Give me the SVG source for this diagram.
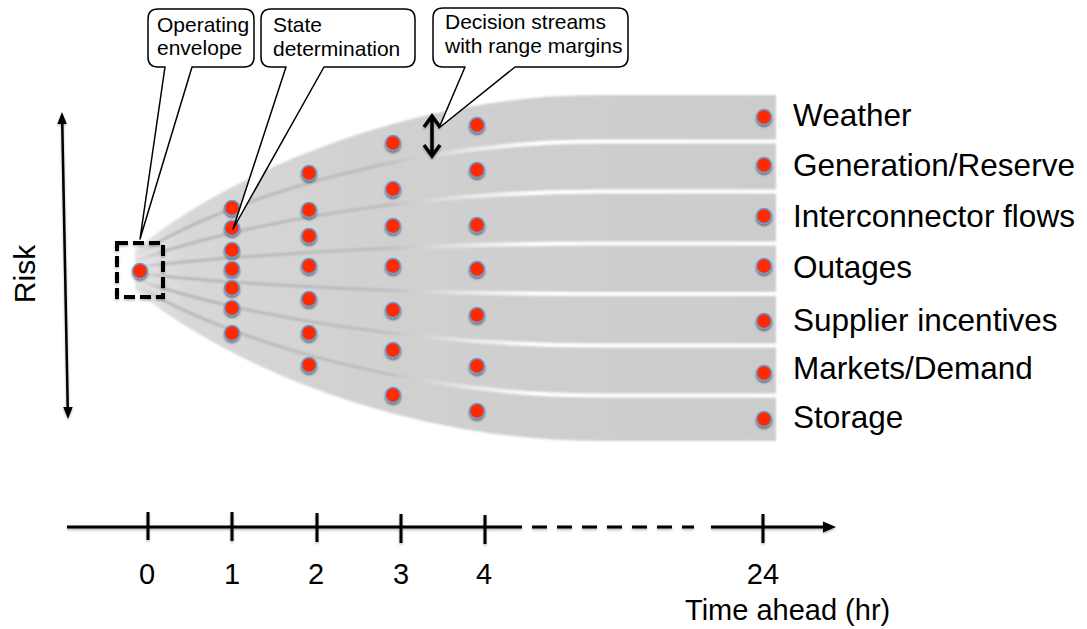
<svg xmlns="http://www.w3.org/2000/svg" width="1087" height="629" viewBox="0 0 1087 629">
<defs>
<style>
text{font-family:"Liberation Sans",Arial,sans-serif;fill:#000}
.lbl{font-size:31.5px}
.tk{font-size:29px;text-anchor:middle}
.co{font-size:21px}
.dot{fill:#ff2a00;stroke:#6c9bd6;stroke-width:1.6}
.ln{stroke:#000;fill:none;stroke-linecap:butt}
.bub{fill:#fff;stroke:#000;stroke-width:1.5;stroke-linejoin:round}
.dk{fill:none;stroke:url(#darkG);stroke-width:3}
.wh{fill:none;stroke:url(#whiteG);stroke-width:4}
</style>
<linearGradient id="fanG" gradientUnits="userSpaceOnUse" x1="135" y1="0" x2="776" y2="0">
<stop offset="0" stop-color="#e4e4e4"/>
<stop offset="0.08" stop-color="#d8d8d8"/>
<stop offset="0.4" stop-color="#d0d0d0"/>
<stop offset="1" stop-color="#cccccc"/>
</linearGradient>
<linearGradient id="darkG" gradientUnits="userSpaceOnUse" x1="135" y1="0" x2="776" y2="0">
<stop offset="0" stop-color="#8c8c8c" stop-opacity="0"/>
<stop offset="0.05" stop-color="#8c8c8c" stop-opacity="0.45"/>
<stop offset="0.38" stop-color="#8c8c8c" stop-opacity="0.3"/>
<stop offset="0.52" stop-color="#8c8c8c" stop-opacity="0"/>
</linearGradient>
<linearGradient id="whiteG" gradientUnits="userSpaceOnUse" x1="135" y1="0" x2="776" y2="0">
<stop offset="0.4" stop-color="#ffffff" stop-opacity="0"/>
<stop offset="0.62" stop-color="#ffffff" stop-opacity="1"/>
<stop offset="1" stop-color="#ffffff" stop-opacity="1"/>
</linearGradient>
<filter id="soft" x="-5%" y="-5%" width="110%" height="110%"><feGaussianBlur stdDeviation="1"/></filter>
<filter id="ds" x="-50%" y="-50%" width="200%" height="200%"><feDropShadow dx="0" dy="2" stdDeviation="1.3" flood-color="#000" flood-opacity="0.45"/></filter>
<filter id="ls" x="-10%" y="-10%" width="120%" height="120%"><feDropShadow dx="0" dy="1.5" stdDeviation="1" flood-color="#000" flood-opacity="0.3"/></filter>
</defs>

<g id="fan" filter="url(#soft)">
<path d="M135,250 C240,165 420,95 600,95 L776,95 L776,441 L600,441 C420,441 240,375 135,290 Z" fill="url(#fanG)"/>
<g id="streaks">
<path class="dk" d="M135,255.4 C240,192 420,141.5 600,141.5 L776,141.5"/>
<path class="dk" d="M135,261.2 C240,223 420,191.5 600,191.5 L776,191.5"/>
<path class="dk" d="M135,267.2 C240,255 420,243.5 600,243.5 L776,243.5"/>
<path class="dk" d="M135,273 C240,285.5 420,294 600,294 L776,294"/>
<path class="dk" d="M135,279 C240,316 420,345.5 600,345.5 L776,345.5"/>
<path class="dk" d="M135,284.7 C240,346 420,395.5 600,395.5 L776,395.5"/>
<path class="wh" d="M135,255.4 C240,192 420,141.5 600,141.5 L778,141.5"/>
<path class="wh" d="M135,261.2 C240,223 420,191.5 600,191.5 L778,191.5"/>
<path class="wh" d="M135,267.2 C240,255 420,243.5 600,243.5 L778,243.5"/>
<path class="wh" d="M135,273 C240,285.5 420,294 600,294 L778,294"/>
<path class="wh" d="M135,279 C240,316 420,345.5 600,345.5 L778,345.5"/>
<path class="wh" d="M135,284.7 C240,346 420,395.5 600,395.5 L778,395.5"/>
</g>
</g>

<g id="envelope">
<rect x="117" y="243" width="46" height="54" fill="none" stroke="#000" stroke-width="4" stroke-dasharray="11 5" filter="url(#ls)"/>
<circle class="dot" cx="140" cy="271" r="7.5" filter="url(#ds)"/>
</g>

<g id="col1" filter="url(#ds)">
<circle class="dot" cx="232" cy="208" r="7.5"/>
<circle class="dot" cx="232" cy="228" r="7.5"/>
<circle class="dot" cx="232" cy="250" r="7.5"/>
<circle class="dot" cx="232" cy="269" r="7.5"/>
<circle class="dot" cx="232" cy="288" r="7.5"/>
<circle class="dot" cx="232" cy="308" r="7.5"/>
<circle class="dot" cx="232" cy="333" r="7.5"/>
</g>
<g id="col2" filter="url(#ds)">
<circle class="dot" cx="309" cy="173" r="7.5"/>
<circle class="dot" cx="309" cy="210" r="7.5"/>
<circle class="dot" cx="309" cy="236" r="7.5"/>
<circle class="dot" cx="309" cy="266" r="7.5"/>
<circle class="dot" cx="309" cy="299" r="7.5"/>
<circle class="dot" cx="309" cy="333" r="7.5"/>
<circle class="dot" cx="309" cy="365" r="7.5"/>
</g>
<g id="col3" filter="url(#ds)">
<circle class="dot" cx="393" cy="143" r="7.5"/>
<circle class="dot" cx="393" cy="189" r="7.5"/>
<circle class="dot" cx="393" cy="226" r="7.5"/>
<circle class="dot" cx="393" cy="266" r="7.5"/>
<circle class="dot" cx="393" cy="310" r="7.5"/>
<circle class="dot" cx="393" cy="350" r="7.5"/>
<circle class="dot" cx="393" cy="395" r="7.5"/>
</g>
<g id="col4" filter="url(#ds)">
<circle class="dot" cx="477" cy="125" r="7.5"/>
<circle class="dot" cx="477" cy="170" r="7.5"/>
<circle class="dot" cx="477" cy="225" r="7.5"/>
<circle class="dot" cx="477" cy="269" r="7.5"/>
<circle class="dot" cx="477" cy="315" r="7.5"/>
<circle class="dot" cx="477" cy="366" r="7.5"/>
<circle class="dot" cx="477" cy="411" r="7.5"/>
</g>
<g id="col24" filter="url(#ds)">
<circle class="dot" cx="764" cy="117" r="7.5"/>
<circle class="dot" cx="764" cy="165" r="7.5"/>
<circle class="dot" cx="764" cy="216" r="7.5"/>
<circle class="dot" cx="764" cy="266" r="7.5"/>
<circle class="dot" cx="764" cy="321" r="7.5"/>
<circle class="dot" cx="764" cy="373" r="7.5"/>
<circle class="dot" cx="764" cy="419" r="7.5"/>
</g>

<g id="labels">
<text class="lbl" x="793" y="126">Weather</text>
<text class="lbl" x="793" y="176">Generation/Reserve</text>
<text class="lbl" x="793" y="227">Interconnector flows</text>
<text class="lbl" x="793" y="278">Outages</text>
<text class="lbl" x="793" y="331">Supplier incentives</text>
<text class="lbl" x="793" y="379">Markets/Demand</text>
<text class="lbl" x="793" y="428">Storage</text>
</g>

<g id="margin-arrow" filter="url(#ls)">
<line class="ln" x1="432" y1="117" x2="432" y2="155" stroke-width="3.5"/>
<polyline class="ln" points="424,127 432,116 440,127" stroke-width="3.5"/>
<polyline class="ln" points="424,145 432,156 440,145" stroke-width="3.5"/>
</g>

<g id="callout-envelope">
<path class="bub" d="M158,9 H244 Q254,9 254,19 V57 Q254,67 244,67 H192 L140,239 L165,67 H158 Q148,67 148,57 V19 Q148,9 158,9 Z"/>
<text class="co" x="157" y="32">Operating</text>
<text class="co" x="157" y="55">envelope</text>
</g>
<g id="callout-state">
<path class="bub" d="M271,9 H405 Q415,9 415,19 V57 Q415,67 405,67 H324 L233,229 L286,67 H271 Q261,67 261,57 V19 Q261,9 271,9 Z"/>
<text class="co" x="273" y="32">State</text>
<text class="co" x="273" y="56">determination</text>
</g>
<g id="callout-decision">
<path class="bub" d="M443,8 H618 Q628,8 628,18 V57 Q628,67 618,67 H515 L439,128 L465,67 H443 Q433,67 433,57 V18 Q433,8 443,8 Z"/>
<text class="co" x="445" y="29">Decision streams</text>
<text class="co" x="445" y="53">with range margins</text>
</g>

<g id="risk-axis">
<g filter="url(#ls)">
<line class="ln" x1="62.2" y1="120" x2="67.8" y2="411" stroke-width="2.5"/>
<polygon points="62,112 57.3,124 66.8,124" fill="#000"/>
<polygon points="68,419 63.2,407 72.7,407" fill="#000"/>
</g>
<text class="lbl" style="font-size:30px" transform="translate(35,274) rotate(-90)" text-anchor="middle" x="0" y="0">Risk</text>
</g>

<g id="time-axis">
<g filter="url(#ls)">
<line class="ln" x1="67" y1="527" x2="507" y2="527" stroke-width="3"/>
<line class="ln" x1="507" y1="527" x2="694" y2="527" stroke-width="3" stroke-dasharray="15 10"/>
<line class="ln" x1="711" y1="527" x2="826" y2="527" stroke-width="3"/>
<polygon points="836,527 823,521.5 823,532.5" fill="#000"/>
<line class="ln" x1="148" y1="512" x2="148" y2="540" stroke-width="3"/>
<line class="ln" x1="232" y1="512" x2="232" y2="541" stroke-width="3"/>
<line class="ln" x1="317" y1="513" x2="317" y2="542" stroke-width="3"/>
<line class="ln" x1="401" y1="514" x2="401" y2="543" stroke-width="3"/>
<line class="ln" x1="485" y1="515" x2="485" y2="544" stroke-width="3"/>
<line class="ln" x1="763" y1="514" x2="763" y2="543" stroke-width="3"/>
</g>
<text class="tk" x="147" y="584">0</text>
<text class="tk" x="232" y="584">1</text>
<text class="tk" x="316" y="584">2</text>
<text class="tk" x="401" y="584">3</text>
<text class="tk" x="484" y="584">4</text>
<text class="tk" x="763" y="584">24</text>
<text class="lbl" style="font-size:29px" x="685" y="620">Time ahead (hr)</text>
</g>
</svg>
